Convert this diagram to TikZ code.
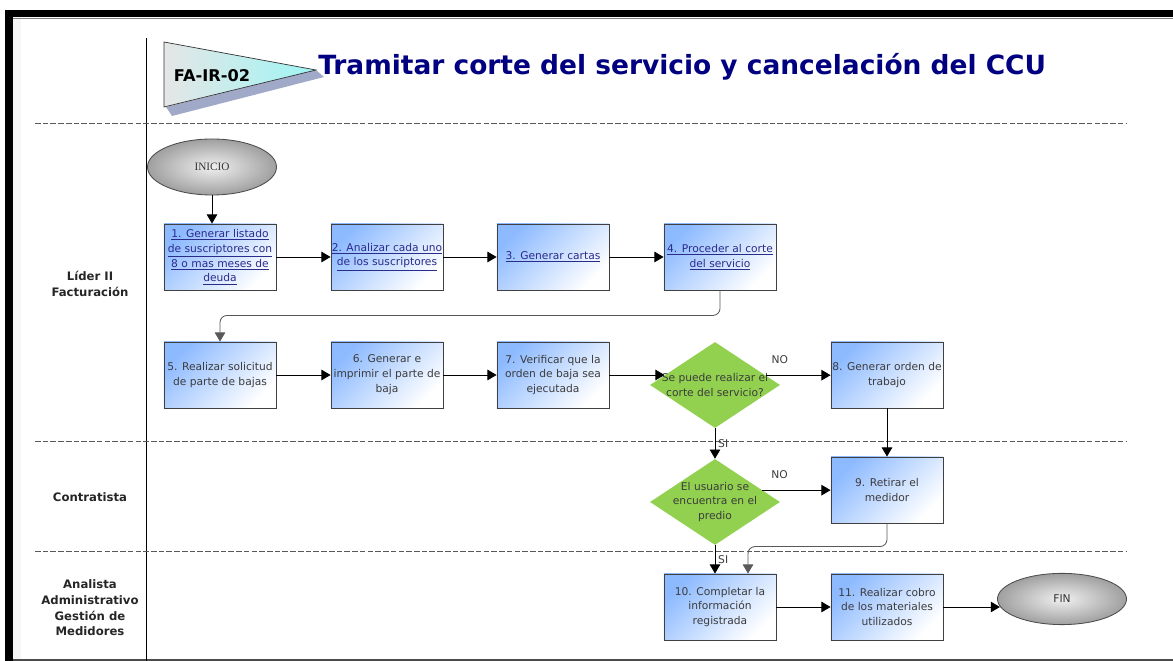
\documentclass[tikz,border=0pt]{standalone}
\usepackage{fontspec}
\setmainfont{DejaVu Sans}
\newfontfamily\letraserif{Liberation Serif}
\usetikzlibrary{arrows.meta,shapes.geometric,calc}
\definecolor{azulpaso}{HTML}{8DBAFF}
\definecolor{verdedec}{HTML}{92D050}
\definecolor{azultitulo}{HTML}{000080}
\definecolor{textolink}{HTML}{2B2B8C}
\definecolor{textogris}{HTML}{3C3C3C}
\definecolor{sombra}{HTML}{8A93BA}
\definecolor{cian}{HTML}{9FF5F5}
\newcommand{\vinculo}[1]{\underline{#1}}

\begin{document}
\begin{tikzpicture}[
x=0.025cm, y=-0.025cm,
font=\fontsize{7.6}{10.6}\selectfont,
paso/.style={rectangle, draw=black!75, line width=0.6pt, top color=azulpaso, bottom color=white, shading angle=45, minimum width=2.8cm, minimum height=1.65cm, align=center, inner sep=0.5pt, text=textogris},
enlace/.style={paso, text=textolink},
decision/.style={diamond, fill=verdedec, minimum width=3.25cm, minimum height=2.15cm, inner sep=0pt},
terminal/.style={ellipse, draw=black!70, line width=0.6pt, inner color=gray!12, outer color=gray!75, minimum width=3.225cm, inner sep=0pt, text=black!80},
carril/.style={font=\bfseries\fontsize{8.3}{11.1}\selectfont, align=center, text=black!85},
flecha/.style={-{Triangle[length=6.5pt,width=7.5pt]}, line width=0.6pt},
divisor/.style={dash pattern=on 4pt off 1.5pt, gray!70!black, line width=0.6pt}
]
    \useasboundingbox (0,0) rectangle (1173,661);
    % Marco
    \fill[black] (5,10) rectangle (1173,17);
    \fill[black] (5,10) rectangle (13,661);
    \fill[gray!7] (13,17) rectangle (21,659);
    \draw[gray, line width=0.5pt] (13,18.5) -- (1173,18.5);
    \draw[black!70, line width=1.2pt] (13,660) -- (1173,660);
    \draw[line width=0.6pt] (146,38) -- (146,661);
    \foreach \y in {123,441,551}
        \draw[divisor] (35,\y) -- (1127,\y);

    % Banderin y titulo
    \fill[sombra, opacity=0.8] (166,107) -- (316,70) -- (324,77) -- (172,116) -- cycle;
    \shadedraw[left color=gray!20, right color=cian, draw=black!80, line width=0.5pt]
        (164,42) -- (316,70) -- (164,107) -- cycle;
    \node[font=\bfseries\fontsize{11.5}{12}\selectfont] (codigo) at (212,76) {FA-IR-02};
    \node[anchor=west, text=azultitulo, font=\bfseries\fontsize{18.8}{20}\selectfont, inner sep=0pt] (titulo) at (318,67)
        {Tramitar corte del servicio y cancelación del CCU};

    % Carriles
    \node[carril] (lider) at (90,284) {Líder II\\Facturación};
    \node[carril] (contratista) at (90,497) {Contratista};
    \node[carril] (analista) at (90,608) {Analista\\Administrativo\\Gestión de\\Medidores};

    % Actividades
    \node[terminal, minimum height=1.4cm, font=\letraserif\fontsize{8}{10}\selectfont] (inicio) at (212,167) {INICIO};
    \node[enlace] (p1) at (220,257) {\vinculo{1. Generar listado}\\\vinculo{de suscriptores con}\\\vinculo{8 o mas meses de}\\\vinculo{deuda}};
    \node[enlace] (p2) at (387,257) {\vinculo{2. Analizar cada uno}\\\vinculo{de los suscriptores}};
    \node[enlace] (p3) at (553,257) {\vinculo{3. Generar cartas}};
    \node[enlace] (p4) at (720,257) {\vinculo{4. Proceder al corte}\\\vinculo{del servicio}};
    \node[paso] (p5) at (220,375) {5. Realizar solicitud\\de parte de bajas};
    \node[paso] (p6) at (387,375) {6. Generar e\\imprimir el parte de\\baja};
    \node[paso] (p7) at (553,375) {7. Verificar que la\\orden de baja sea\\ejecutada};
    \node[decision, label={[align=center, text=textogris]center:Se puede realizar el\\corte del servicio?}] (d1) at (715,385) {};
    \node[paso] (p8) at (887,375) {8. Generar orden de\\trabajo};
    \node[decision, label={[align=center, text=textogris]center:El usuario se\\encuentra en el\\predio}] (d2) at (715,502) {};
    \node[paso] (p9) at (887,490) {9. Retirar el\\medidor};
    \node[paso] (p10) at (720,607) {10. Completar la\\información\\registrada};
    \node[paso] (p11) at (887,607) {11. Realizar cobro\\de los materiales\\utilizados};
    \node[terminal, minimum height=1.28cm] (fin) at (1062,599) {FIN};

    % Conectores
    \draw[flecha] (inicio) -- (inicio |- p1.north);
    \draw[flecha] (p1) -- (p2);
    \draw[flecha] (p2) -- (p3);
    \draw[flecha] (p3) -- (p4);
    \draw[flecha, draw=black!65, rounded corners=5pt] (p4.south) -- ($(p4.south)+(0,25)$) -| (p5.north);
    \draw[flecha] (p5) -- (p6);
    \draw[flecha] (p6) -- (p7);
    \draw[flecha] (p7.east) -- (p7.east -| d1.169);
    \draw[flecha] (d1.11) -- (d1.11 -| p8.west) node[pos=0.22, above=7pt, inner sep=1pt, text=textogris] {NO};
    \draw[flecha] (d1) -- (d2) node[midway, right=1pt, inner sep=1pt, text=textogris] {SI};
    \draw[flecha] (p8) -- (p9);
    \draw[flecha] (d2.14) -- (d2.14 -| p9.west) node[pos=0.25, above=7pt, inner sep=1pt, text=textogris] {NO};
    \draw[flecha] (d2) -- (d2 |- p10.north) node[midway, right=1pt, inner sep=1pt, text=textogris] {SI};
    \draw[flecha, draw=black!65, rounded corners=5pt] (p9.south) |- ($(p10.north)+(28,-27)$) -- ($(p10.north)+(28,0)$);
    \draw[flecha] (p10) -- (p11);
    \draw[flecha] (p11.east) -- (p11.east -| fin.187);
\end{tikzpicture}
\end{document}
